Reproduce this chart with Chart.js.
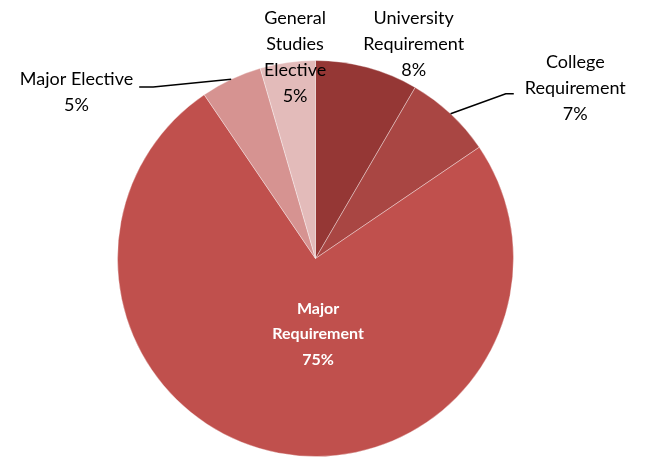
<!DOCTYPE html>
<html>
<head>
<meta charset="utf-8">
<script src="https://cdn.jsdelivr.net/npm/chart.js@4.4.1/dist/chart.umd.min.js"></script>
<style>
  html, body { margin: 0; padding: 0; background: #fff; }
  #wrap { width: 647px; height: 457px; position: relative; }
</style>
</head>
<body>
<div id="wrap"><canvas id="creditChart"></canvas></div>
<script>
// slices, clockwise from 12 o'clock
const categories = [
    ['University', 'Requirement'],
    ['College', 'Requirement'],
    ['Major', 'Requirement'],
    ['Major Elective'],
    ['General', 'Studies', 'Elective']
];
const shares = [8.4, 7.1, 75.0, 5.0, 4.5];
const sliceColors = ['#953735', '#A94643', '#C0504D', '#D69391', '#E3BBBA'];

// label placement, in units of the pie radius from its centre
const labelLayout = [
    { dx: 0.496, dy: -1.083 },
    { dx: 1.312, dy: -0.862, leader: 'left', hook: 8 },
    { dx: 0.013, dy: 0.383, inside: true },
    { dx: -1.207, dy: -0.841, leader: 'right', hook: 14 },
    { dx: -0.103, dy: -1.018 }
];

const labelPlugin = {
    id: 'sliceLabels',
    afterDatasetsDraw(chart) {
        const ctx = chart.ctx;
        const meta = chart.getDatasetMeta(0);
        const total = shares.reduce((a, b) => a + b, 0);
        meta.data.forEach((arc, i) => {
            const lay = labelLayout[i];
            const r = arc.outerRadius;
            const cx = arc.x + lay.dx * r;
            const cy = arc.y + lay.dy * r;
            const lines = categories[i].concat([Math.round(shares[i] / total * 100) + '%']);
            const lh = lay.inside ? 25.5 : 26;

            ctx.save();
            ctx.font = lay.inside ? 'bold 16px Lato' : '18px Lato';
            ctx.fillStyle = lay.inside ? '#ffffff' : '#000000';
            ctx.textAlign = 'center';
            ctx.textBaseline = 'middle';
            const top = cy - (lines.length - 1) * lh / 2;
            let widest = 0;
            lines.forEach((t, k) => {
                ctx.fillText(t, cx, top + k * lh);
                widest = Math.max(widest, ctx.measureText(t).width);
            });

            if (lay.leader) {
                const mid = (arc.startAngle + arc.endAngle) / 2;
                const ex = arc.x + Math.cos(mid) * r;
                const ey = arc.y + Math.sin(mid) * r;
                let sx, sy, kx;
                if (lay.leader === 'left') {
                    sx = cx - widest / 2 - 11;
                    sy = cy + 6;
                    kx = sx - lay.hook;
                } else {
                    sx = cx + widest / 2 + 6;
                    sy = cy - 5;
                    kx = sx + lay.hook;
                }
                ctx.strokeStyle = '#000000';
                ctx.lineWidth = 1.5;
                ctx.beginPath();
                ctx.moveTo(sx, sy);
                ctx.lineTo(kx, sy);
                ctx.lineTo(ex, ey);
                ctx.stroke();
            }
            ctx.restore();
        });
    }
};

const labels = categories.map(c => c.join(' '));

new Chart(document.getElementById('creditChart').getContext('2d'), {
    type: 'pie',
    data: {
        labels: labels,
        datasets: [{
            data: shares,
            backgroundColor: sliceColors,
            borderColor: 'rgba(255,255,255,0.35)',
            borderWidth: 1
        }]
    },
    options: {
        responsive: true,
        maintainAspectRatio: false,
        animation: false,
        layout: { padding: { top: 60, bottom: 0, left: 0, right: 16 } },
        plugins: {
            legend: { display: false },
            tooltip: { enabled: false }
        }
    },
    plugins: [labelPlugin]
});
</script>
</body>
</html>
